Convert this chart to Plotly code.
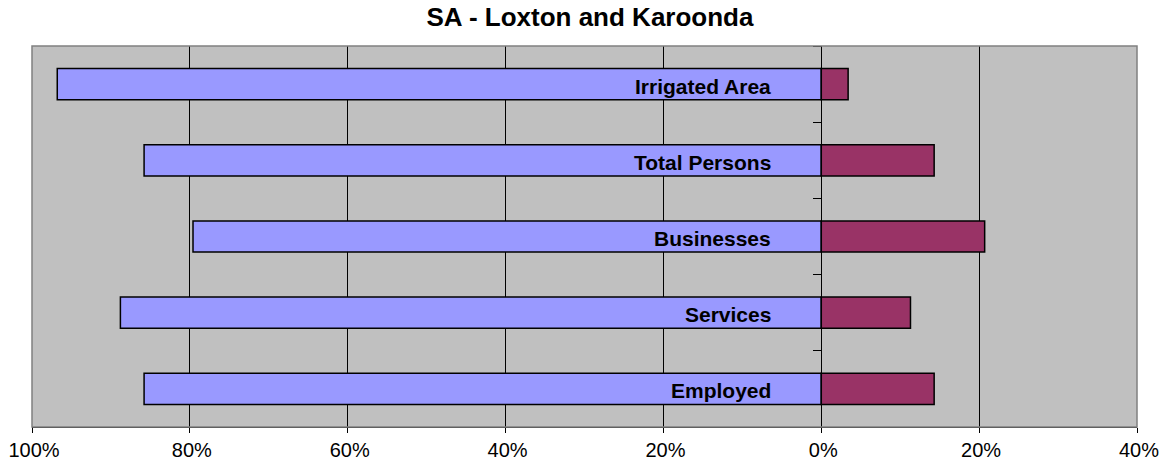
import plotly.graph_objects as go

categories = ["Irrigated Area", "Total Persons", "Businesses", "Services", "Employed"]
left_values = [96.8, 85.8, 79.6, 88.8, 85.8]
right_values = [3.4, 14.3, 20.7, 11.3, 14.3]
tick_vals = [-100, -80, -60, -40, -20, 0, 20, 40]
tick_text = ["100%", "80%", "60%", "40%", "20%", "0%", "20%", "40%"]

ypos = list(range(len(categories)))[::-1]

fig = go.Figure()
fig.add_trace(go.Bar(y=ypos, x=[-v for v in left_values], orientation="h",
                     marker=dict(color="#9999FF", line=dict(color="black", width=1.5)),
                     showlegend=False, hoverinfo="skip"))
fig.add_trace(go.Bar(y=ypos, x=right_values, orientation="h",
                     marker=dict(color="#993366", line=dict(color="black", width=1.5)),
                     showlegend=False, hoverinfo="skip"))

for c, y in zip(categories, ypos):
    fig.add_annotation(x=-6.1, y=y, text="<b>%s</b>" % c, showarrow=False,
                       xanchor="right", yanchor="middle", yshift=-2,
                       font=dict(family="Liberation Sans, Arial", size=21, color="black"))

fig.update_layout(
    width=1164, height=457,
    margin=dict(l=24, r=35, t=38, b=38, autoexpand=False),
    paper_bgcolor="white", plot_bgcolor="#C0C0C0",
    barmode="relative", bargap=0.59,
    title=dict(text="<b>SA - Loxton and Karoonda</b>", x=0.5, xanchor="center",
               y=1, yanchor="top", pad=dict(t=0, b=0),
               font=dict(family="Liberation Sans, Arial", size=26, color="black")),
    font=dict(family="Liberation Sans, Arial", size=20, color="black"),
    xaxis=dict(range=[-100, 40], tickvals=tick_vals, ticktext=tick_text,
               showgrid=True, gridcolor="black", gridwidth=1,
               zeroline=True, zerolinecolor="black", zerolinewidth=1,
               showline=True, linecolor="black", linewidth=1,
               ticks="outside", ticklen=5, tickcolor="black",
               ticklabeloverflow="allow", ticklabelshift=2,
               tickfont=dict(size=20), fixedrange=True, automargin=False),
    yaxis=dict(range=[-0.5, len(categories) - 0.5], showticklabels=False,
               showgrid=False, zeroline=False, showline=False, ticks=""),
    yaxis2=dict(range=[-0.5, len(categories) - 0.5], overlaying="y", anchor="free",
                position=100 / 140, side="left", automargin=False,
                tickmode="array", tickvals=[i + 0.5 for i in range(-1, len(categories))],
                showticklabels=False, ticks="outside", ticklen=8, tickcolor="black",
                showgrid=False, zeroline=False, showline=False),
    shapes=[dict(type="rect", xref="paper", yref="paper", x0=0, x1=1, y0=0, y1=1,
                 line=dict(color="#808080", width=1.5), layer="above")],
)
fig.add_trace(go.Scatter(x=[None], y=[None], yaxis="y2", showlegend=False))
fig.write_html("out.html")
